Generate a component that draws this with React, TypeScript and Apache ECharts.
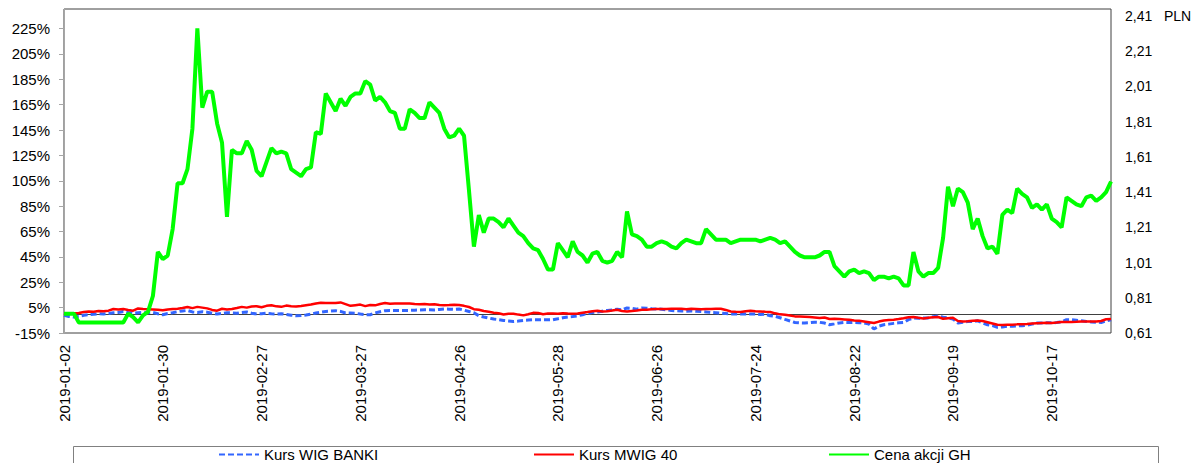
import React, { useEffect, useRef } from "react";
import * as echarts from "echarts";

// ---- categories (Warsaw Stock Exchange trading days) ----
const START_DATE = "2019-01-02";
const POINT_COUNT = 213;
const MARKET_HOLIDAYS = [
  "2019-04-19", "2019-04-22", "2019-05-01", "2019-05-03",
  "2019-06-20", "2019-08-15", "2019-11-01",
];

// ---- tick labels ----
const LEFT_TICKS = [-15, 5, 25, 45, 65, 85, 105, 125, 145, 165, 185, 205, 225];
const RIGHT_TICKS = [0.61, 0.81, 1.01, 1.21, 1.41, 1.61, 1.81, 2.01, 2.21, 2.41];
const LEFT_MIN = -15;
const LEFT_MAX = 240.4;
const RIGHT_MIN = 0.61;
const RIGHT_MAX = 2.4495;

// ---- series ----
const SERIES_NAMES = ["Kurs WIG BANKI", "Kurs MWIG 40", "Cena akcji GH"];

// % change
const WIG_BANKI = [
  -1.0, -2.0, -2.4, -1.8, -1.0, -0.6, -0.3, 0.2, 0.0, 0.4,
  0.9, 1.2, 2.0, 1.2, 0.6, 1.0, 1.2, 1.0, 1.2, 0.2,
  -0.6, 0.4, 1.0, 1.8, 2.4, 2.8, 1.6, 1.2, 1.8, 1.4,
  0.6, 0.0, 0.4, 1.0, 0.8, 0.6, 1.2, 1.6, 0.6, 0.0,
  0.2, 0.6, 0.2, 0.0, 0.2, -0.4, -1.0, -1.4, -1.2, -0.8,
  -0.2, 0.8, 1.4, 2.0, 2.3, 2.6, 2.0, 0.8, 0.7, 0.6,
  -0.1, -0.5, -0.6, 0.8, 1.8, 2.6, 2.8, 2.7, 2.8, 2.8,
  2.8, 3.0, 3.2, 3.4, 3.3, 3.2, 3.6, 3.9, 3.8, 3.6,
  3.9, 3.0, 2.0, 1.0, -1.4, -2.4, -3.2, -4.0, -4.5, -5.1,
  -5.5, -5.9, -5.6, -5.1, -4.8, -4.5, -4.5, -4.6, -4.5, -4.5,
  -3.8, -3.0, -2.4, -2.0, -1.5, -0.6, 0.5, 1.2, 1.6, 2.2,
  2.8, 3.2, 3.8, 3.2, 4.7, 4.5, 3.8, 4.7, 4.6, 4.2,
  4.0, 3.7, 3.2, 2.8, 2.5, 2.4, 2.2, 2.4, 2.2, 1.9,
  1.6, 1.2, 1.0, 0.6, 0.3, 0.0, 0.1, -0.1, 0.0, 0.0,
  0.0, -0.4, -0.2, -1.4, -1.8, -3.0, -4.3, -5.5, -6.7, -7.0,
  -7.1, -6.9, -6.5, -6.6, -7.2, -8.5, -7.8, -7.1, -6.7, -6.8,
  -6.7, -6.9, -7.0, -7.9, -11.8, -9.6, -8.5, -8.0, -7.4, -7.0,
  -6.7, -4.5, -3.2, -3.4, -3.2, -3.1, -2.2, -1.6, -2.6, -3.1,
  -4.0, -7.1, -6.5, -6.0, -5.9, -5.4, -7.0, -8.5, -9.2, -10.5,
  -10.2, -9.7, -9.7, -9.4, -9.2, -8.9, -8.0, -7.1, -7.1, -7.0,
  -6.9, -6.8, -6.3, -4.5, -4.6, -5.0, -5.4, -5.9, -6.3, -6.5,
  -6.7, -5.5, -4.5,
];

// % change
const MWIG_40 = [
  0.0, 0.3, 0.5, 0.8, 1.5, 2.0, 1.8, 2.4, 2.2, 2.6,
  3.9, 3.6, 3.9, 3.2, 2.6, 4.4, 4.0, 3.8, 3.6, 3.4,
  3.0, 3.6, 3.9, 4.2, 4.7, 5.5, 4.6, 5.6, 5.0, 4.4,
  3.2, 2.6, 4.1, 3.6, 3.9, 4.7, 5.6, 5.0, 5.9, 6.1,
  5.3, 6.4, 6.9, 6.0, 5.6, 6.6, 6.1, 5.8, 6.2, 6.8,
  7.4, 8.3, 8.9, 8.6, 8.7, 8.6, 9.1, 7.8, 6.4, 6.9,
  7.4, 6.2, 7.0, 6.8, 7.9, 8.6, 8.0, 8.2, 8.3, 8.2,
  8.3, 7.8, 7.6, 7.8, 7.5, 7.6, 7.0, 6.8, 7.0, 7.3,
  7.1, 6.4, 5.5, 3.8, 3.3, 2.3, 1.8, 1.0, 0.6, -0.4,
  0.2, 0.2, -0.5, -1.1, -0.2, 0.9, 0.8, -0.2, 0.3, 0.4,
  0.2, 0.5, 0.3, 0.2, 0.4, 1.0, 1.5, 2.2, 2.6, 1.9,
  2.2, 2.7, 3.3, 2.4, 1.9, 2.4, 2.8, 3.4, 3.4, 3.7,
  3.9, 4.0, 3.9, 4.1, 4.1, 4.1, 3.8, 4.2, 4.0, 3.7,
  3.9, 4.0, 4.1, 4.1, 3.2, 2.0, 1.7, 1.6, 2.2, 2.6,
  2.2, 2.0, 1.7, 1.5, 0.5, -0.3, -0.6, -1.2, -1.9, -2.0,
  -2.2, -2.4, -2.8, -3.2, -2.8, -4.0, -3.7, -4.0, -4.3, -4.6,
  -5.1, -5.4, -5.9, -6.5, -7.1, -6.0, -5.1, -4.8, -4.5, -4.0,
  -3.4, -2.6, -2.4, -3.0, -3.5, -3.0, -2.6, -2.4, -3.8, -3.3,
  -3.0, -5.5, -5.9, -5.7, -5.3, -5.1, -5.6, -6.5, -7.5, -8.5,
  -8.6, -8.4, -8.5, -8.2, -8.1, -7.9, -7.5, -7.3, -7.1, -7.0,
  -7.1, -6.8, -6.3, -6.4, -6.3, -6.2, -6.0, -5.9, -5.9, -6.0,
  -5.5, -4.2, -4.0,
];

// PLN
const GH_PRICE = [
  0.72, 0.72, 0.72, 0.67, 0.67, 0.67, 0.67, 0.67, 0.67, 0.67,
  0.67, 0.67, 0.67, 0.72, 0.70, 0.67, 0.71, 0.73, 0.82, 1.07,
  1.03, 1.05, 1.20, 1.46, 1.46, 1.54, 1.77, 2.34, 1.89, 1.98,
  1.98, 1.80, 1.69, 1.27, 1.65, 1.63, 1.63, 1.70, 1.65, 1.53,
  1.50, 1.58, 1.66, 1.63, 1.64, 1.63, 1.54, 1.52, 1.50, 1.54,
  1.55, 1.75, 1.74, 1.97, 1.92, 1.87, 1.94, 1.90, 1.95, 1.97,
  1.97, 2.04, 2.02, 1.93, 1.95, 1.92, 1.87, 1.86, 1.77, 1.77,
  1.88, 1.86, 1.83, 1.83, 1.92, 1.89, 1.86, 1.77, 1.72, 1.73,
  1.77, 1.73, 1.42, 1.10, 1.28, 1.18, 1.26, 1.26, 1.24, 1.21,
  1.26, 1.22, 1.18, 1.16, 1.12, 1.09, 1.08, 1.03, 0.97, 0.97,
  1.12, 1.08, 1.04, 1.13, 1.07, 1.05, 1.01, 1.06, 1.07, 1.02,
  1.01, 1.02, 1.07, 1.04, 1.30, 1.17, 1.16, 1.14, 1.10, 1.10,
  1.12, 1.13, 1.12, 1.10, 1.09, 1.12, 1.14, 1.13, 1.12, 1.12,
  1.20, 1.17, 1.14, 1.14, 1.14, 1.12, 1.13, 1.14, 1.14, 1.14,
  1.14, 1.13, 1.14, 1.15, 1.14, 1.12, 1.13, 1.10, 1.07, 1.05,
  1.04, 1.04, 1.04, 1.05, 1.07, 1.07, 0.99, 0.96, 0.93, 0.96,
  0.97, 0.95, 0.96, 0.95, 0.91, 0.93, 0.93, 0.92, 0.93, 0.92,
  0.88, 0.88, 1.07, 0.96, 0.93, 0.95, 0.95, 0.98, 1.15, 1.44,
  1.33, 1.43, 1.41, 1.35, 1.20, 1.26, 1.16, 1.09, 1.10, 1.06,
  1.28, 1.31, 1.29, 1.43, 1.40, 1.38, 1.32, 1.34, 1.31, 1.34,
  1.26, 1.24, 1.21, 1.38, 1.36, 1.34, 1.33, 1.38, 1.39, 1.36,
  1.38, 1.41, 1.47,
];

function tradingDays(start: string, count: number, holidays: string[]): string[] {
  const out: string[] = [];
  const d = new Date(start + "T00:00:00Z");
  while (out.length < count) {
    const iso = d.toISOString().slice(0, 10);
    const wd = d.getUTCDay();
    if (wd !== 0 && wd !== 6 && holidays.indexOf(iso) < 0) out.push(iso);
    d.setUTCDate(d.getUTCDate() + 1);
  }
  return out;
}

const FONT = "'Liberation Sans', Arial, sans-serif";

export default function App() {
  const ref = useRef<HTMLDivElement>(null);

  useEffect(() => {
    if (!ref.current) return;
    const chart = echarts.init(ref.current, undefined, { renderer: "svg" });
    const dates = tradingDays(START_DATE, POINT_COUNT, MARKET_HOLIDAYS);
    const colors = ["#3366ff", "#ff0000", "#00ff00"];
    const legendLefts = [218, 533, 828];

    chart.setOption({
      animation: false,
      backgroundColor: "#ffffff",
      textStyle: { fontFamily: FONT },
      grid: {
        left: 64,
        right: 93,
        top: 9,
        bottom: 130,
        show: true,
        borderColor: "#404040",
        borderWidth: 1,
        containLabel: false,
      },
      legend: SERIES_NAMES.map((n, i) => ({
        data: [n],
        left: legendLefts[i],
        top: 447,
        padding: 0,
        itemWidth: 40,
        itemHeight: 6,
        selectedMode: false,
        itemStyle: { opacity: 0 },
        textStyle: { fontSize: 15, color: "#000", fontFamily: FONT },
      })),
      graphic: [
        {
          type: "rect",
          shape: { x: 73.5, y: 446.5, width: 1085, height: 30 },
          style: { fill: "none", stroke: "#808080", lineWidth: 1 },
          silent: true,
        },
      ],
      xAxis: {
        type: "category",
        data: dates,
        boundaryGap: false,
        axisLine: { show: true, lineStyle: { color: "#808080", width: 1 } },
        axisTick: { show: false },
        splitLine: { show: false },
        axisLabel: {
          rotate: 90,
          interval: 19,
          fontSize: 15,
          color: "#000",
          margin: 12,
          fontFamily: FONT,
        },
      },
      yAxis: [
        {
          type: "value",
          position: "left",
          min: LEFT_MIN,
          max: LEFT_MAX,
          splitLine: { show: false },
          axisLine: { show: true, lineStyle: { color: "#a6a6a6" } },
          axisTick: {
            show: true,
            length: 5,
            customValues: LEFT_TICKS,
            lineStyle: { color: "#a6a6a6" },
          },
          axisLabel: {
            customValues: LEFT_TICKS,
            formatter: (v: number) => `${v}%`,
            fontSize: 15,
            color: "#000",
            margin: 14,
            fontFamily: FONT,
          },
        },
        {
          type: "value",
          position: "right",
          min: RIGHT_MIN,
          max: RIGHT_MAX,
          splitLine: { show: false },
          axisLine: { show: false },
          axisTick: { show: false, customValues: RIGHT_TICKS },
          axisLabel: {
            customValues: RIGHT_TICKS,
            formatter: (v: number) => {
              const s = v.toFixed(2).replace(".", ",");
              return v > 2.4 ? s + "   PLN" : s;
            },
            fontSize: 14,
            color: "#000",
            margin: 14,
            fontFamily: FONT,
          },
        },
      ],
      series: [
        {
          name: SERIES_NAMES[0],
          type: "line",
          yAxisIndex: 0,
          data: WIG_BANKI,
          symbol: "none",
          color: colors[0],
          lineStyle: { color: colors[0], width: 3, type: [6, 3] },
          z: 3,
        },
        {
          name: SERIES_NAMES[1],
          type: "line",
          yAxisIndex: 0,
          data: MWIG_40,
          symbol: "none",
          color: colors[1],
          lineStyle: { color: colors[1], width: 2.5 },
          z: 4,
          markLine: {
            silent: true,
            symbol: ["none", "none"],
            label: { show: false },
            lineStyle: { color: "#404040", width: 1, type: "solid" },
            data: [{ yAxis: 0 }],
            z: 2,
          },
        },
        {
          name: SERIES_NAMES[2],
          type: "line",
          yAxisIndex: 1,
          data: GH_PRICE,
          symbol: "none",
          color: colors[2],
          lineStyle: { color: colors[2], width: 4 },
          z: 5,
        },
      ],
    });

    return () => chart.dispose();
  }, []);

  return (
    <div
      ref={ref}
      style={{ position: "absolute", left: 0, top: 0, width: 1204, height: 463 }}
    />
  );
}
